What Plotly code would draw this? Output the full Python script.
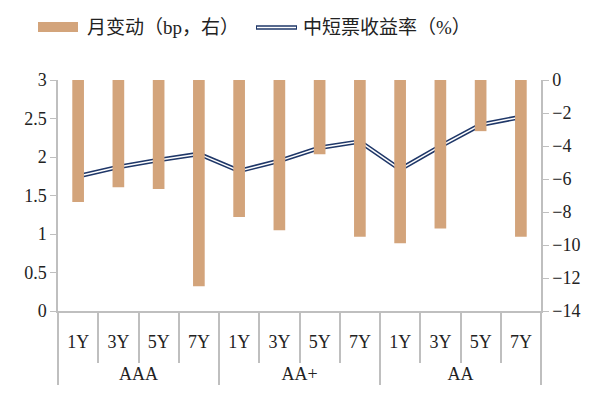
import plotly.graph_objects as go

groups = ["AAA"] * 4 + ["AA+"] * 4 + ["AA"] * 4
tenors = ["1Y", "3Y", "5Y", "7Y"] * 3
change_bp = [-7.4, -6.5, -6.6, -12.5, -8.3, -9.1, -4.5, -9.5, -9.9, -9.0, -3.1, -9.5]
yield_pct = [1.75, 1.87, 1.96, 2.04, 1.82, 1.95, 2.12, 2.20, 1.84, 2.14, 2.42, 2.52]

bar_color = "#D3A47B"
line_color = "#1F3768"
axis_color = "#BFBFBF"
font_fam = "Liberation Serif, Times New Roman, Noto Sans CJK SC, serif"

# group labels pushed down to sit below the tenor row
group_labels = ["<br>" + g for g in groups]

fig = go.Figure()
fig.add_trace(go.Bar(
    x=[group_labels, tenors], y=change_bp, yaxis="y2", name="月变动（bp，右）",
    marker=dict(color=bar_color, line=dict(width=0)), showlegend=False,
))
fig.add_trace(go.Scatter(
    x=[group_labels, tenors], y=yield_pct, yaxis="y", mode="lines", name="中短票收益率（%）",
    line=dict(color=line_color, width=4.6), showlegend=False,
))
fig.add_trace(go.Scatter(
    x=[group_labels, tenors], y=yield_pct, yaxis="y", mode="lines", hoverinfo="skip",
    line=dict(color="white", width=1.5), showlegend=False,
))

# custom legend
W, H = 597, 393
l, r, t, b = 58, 56, 80, 82
pw, ph = W - l - r, H - t - b
def px(xp): return (xp - l) / pw
def py(yp): return (H - b - yp) / ph

shapes = [
    dict(type="rect", xref="paper", yref="paper", x0=px(38), x1=px(78), y0=py(32), y1=py(22),
         fillcolor=bar_color, line=dict(width=0)),
    dict(type="line", xref="paper", yref="paper", x0=px(256), x1=px(297), y0=py(27.5), y1=py(27.5),
         line=dict(color=line_color, width=4.6)),
    dict(type="line", xref="paper", yref="paper", x0=px(257), x1=px(296), y0=py(27.5), y1=py(27.5),
         line=dict(color="white", width=1.5)),
]
annotations = [
    dict(xref="paper", yref="paper", x=px(85), y=py(27), xanchor="left", yanchor="middle",
         text="月变动（bp，右）", showarrow=False, font=dict(size=19, color="#222", family=font_fam)),
    dict(xref="paper", yref="paper", x=px(301), y=py(27), xanchor="left", yanchor="middle",
         text="中短票收益率（%）", showarrow=False, font=dict(size=19, color="#222", family=font_fam)),
]

fig.update_layout(
    width=W, height=H,
    margin=dict(l=l, r=r, t=t, b=b),
    paper_bgcolor="white", plot_bgcolor="white",
    font=dict(family=font_fam, size=18, color="#222"),
    bargap=0.71,
    shapes=shapes, annotations=annotations,
    xaxis=dict(
        type="multicategory", showline=True, linecolor=axis_color, linewidth=1.5,
        ticks="outside", tickson="boundaries", ticklen=50, tickcolor=axis_color, tickwidth=1.5,
        ticklabelstandoff=14, automargin=False,
        showdividers=True, dividercolor=axis_color, dividerwidth=1.5,
        tickfont=dict(size=18, color="#222"), showgrid=False,
    ),
    yaxis=dict(
        range=[0, 3], dtick=0.5, showgrid=False, showline=True, linecolor=axis_color, linewidth=1.5,
        ticks="outside", ticklen=6, tickcolor=axis_color, tickfont=dict(size=18, color="#222"),
        zeroline=False, automargin=False,
    ),
    yaxis2=dict(
        range=[-14, 0], dtick=2, overlaying="y", side="right", showgrid=False, showline=True,
        linecolor=axis_color, linewidth=1.5, ticks="outside", ticklen=6, tickcolor=axis_color,
        tickfont=dict(size=18, color="#222"), zeroline=False, automargin=False,
    ),
)

fig.write_html("out.html")
